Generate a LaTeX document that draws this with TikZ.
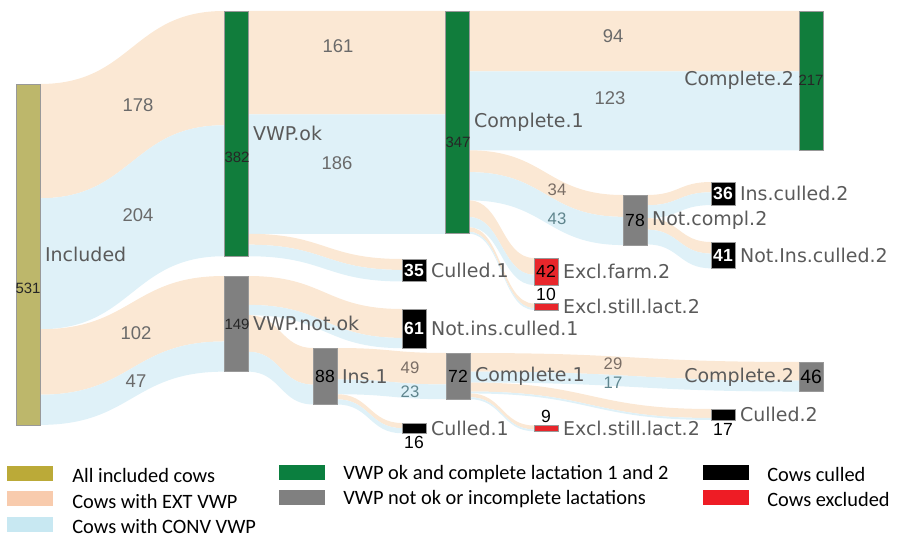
\documentclass[tikz,border=0pt]{standalone}
\usepackage{fontspec}
\newfontfamily\lblfont{DejaVu Sans}
\newfontfamily\numfont{Liberation Sans}
\newfontfamily\legfont{Carlito}
\usetikzlibrary{positioning, calc, backgrounds}
\definecolor{colive}{HTML}{BDB76B}
\definecolor{cgreen}{HTML}{117D3C}
\definecolor{cgrey}{HTML}{808080}
\definecolor{cred}{HTML}{E8262B}
\definecolor{cext}{HTML}{FBE8D4}
\definecolor{cconv}{HTML}{DFF1F8}
\definecolor{ctext}{HTML}{5A5A5A}
\definecolor{cnum}{HTML}{6A6A6A}
\definecolor{cextnum}{HTML}{7A6E66}
\definecolor{cconvnum}{HTML}{5F858D}
\definecolor{legolive}{HTML}{BBAA38}
\definecolor{legext}{HTML}{F8CBAD}
\definecolor{legconv}{HTML}{C8E8F2}
\definecolor{leggreen}{HTML}{0B7F3F}
\definecolor{legred}{HTML}{EE1C25}
\def\cowpx{0.642}
\tikzset{
  cowbar/.style={draw=black!40, line width=0.4pt, inner sep=0pt, outer sep=0pt,
    minimum width=0.48cm, minimum height={#1*\cowpx*0.02cm}, anchor=north west},
  lbl/.style={font=\lblfont\fontsize{10.8}{13}\selectfont, text=ctext, inner sep=1pt},
  flownum/.style={font=\numfont\fontsize{10.5}{12}\selectfont, text=cnum, inner sep=0pt},
  smallnum/.style={font=\numfont\fontsize{9.5}{11}\selectfont, text=#1, inner sep=0pt},
  boxnum/.style={font=\numfont\fontsize{8.5}{10}\selectfont, text=black!85, inner sep=0pt},
  cellnum/.style={font=\numfont\fontsize{10}{12}\selectfont, text=#1, inner sep=0pt},
  legtext/.style={font=\legfont\fontsize{11.6}{14}\selectfont, anchor=west, inner sep=0pt},
  swatch/.style={fill=#1, minimum width=0.92cm, minimum height=0.3cm, inner sep=0pt},
}
% one band of the sankey: source, offset at source, target, offset at target, cows, colour
\newcommand{\flow}[6]{%
  \path ($(#1.north east)+(0,{(#2)*\cowpx})$) coordinate (fa)
        ($(#1.north east)+(0,{(#2+#5)*\cowpx})$) coordinate (fc)
        ($(#3.north west)+(0,{(#4)*\cowpx})$) coordinate (fb)
        ($(#3.north west)+(0,{(#4+#5)*\cowpx})$) coordinate (fd)
        ($(fa)!.5!(fb)$) coordinate (fm);
  \fill[#6] (fa) .. controls (fm |- fa) and (fm |- fb) .. (fb) -- (fd)
    .. controls (fm |- fd) and (fm |- fc) .. (fc) -- cycle;
}

\begin{document}
\begin{tikzpicture}[x=0.02cm, y=-0.02cm]
  \useasboundingbox (0,0) rectangle (898,536);
  % nodes
  \node[cowbar=531, fill=colive] (inc) at (16,84) {};
  \node[cowbar=382, fill=cgreen] (vok) at (224,11) {};
  \node[cowbar=149, fill=cgrey] (vnok) at (224,276) {};
  \node[cowbar=347, fill=cgreen] (cpa) at (445,11) {};
  \node[cowbar=35, fill=black] (cla) at (402,259) {};
  \node[cowbar=61, fill=black] (nic) at (402,309) {};
  \node[cowbar=88, fill=cgrey] (ins) at (313,348) {};
  \node[cowbar=72, fill=cgrey] (cpb) at (446,353) {};
  \node[cowbar=16, fill=black] (clb) at (402,423) {};
  \node[cowbar=217, fill=cgreen] (cqa) at (799,11) {};
  \node[cowbar=78, fill=cgrey] (ncp) at (623,195) {};
  \node[cowbar=36, fill=black] (icq) at (711,182) {};
  \node[cowbar=41, fill=black] (nicq) at (711,242) {};
  \node[cowbar=42, fill=cred] (exf) at (534,258) {};
  \node[cowbar=10, fill=cred] (exa) at (534,303.5) {};
  \node[cowbar=46, fill=cgrey] (cqb) at (799,362) {};
  \node[cowbar=17, fill=black] (clq) at (711,409) {};
  \node[cowbar=9, fill=cred] (exb) at (534,425.5) {};

  % bands
  \begin{scope}[on background layer]
    \foreach \s/\a/\t/\b/\n/\c in {
      inc/0/vok/0/178/cext, inc/178/vok/178/204/cconv,
      inc/382/vnok/0/102/cext, inc/484/vnok/102/47/cconv,
      vok/0/cpa/0/161/cext, vok/161/cpa/161/186/cconv,
      vok/347/cla/0/17/cext, vok/364/cla/17/18/cconv,
      vnok/0/nic/0/45/cext, vnok/45/nic/45/16/cconv,
      vnok/61/ins/0/57/cext, vnok/118/ins/57/31/cconv,
      ins/0/cpb/0/49/cext, ins/49/cpb/49/23/cconv,
      ins/72/clb/0/8/cext, ins/80/clb/8/8/cconv,
      cpb/0/cqb/0/29/cext, cpb/29/cqb/29/17/cconv,
      cpb/46/clq/0/14/cext, cpb/60/clq/14/3/cconv,
      cpb/63/exb/0/6/cext, cpb/69/exb/6/3/cconv,
      cpa/0/cqa/0/94/cext, cpa/94/cqa/94/123/cconv,
      cpa/217/ncp/0/34/cext, cpa/251/ncp/34/44/cconv,
      cpa/295/exf/0/26/cext, cpa/321/exf/26/16/cconv,
      cpa/337/exa/0/7/cext, cpa/344/exa/7/3/cconv,
      ncp/0/icq/0/16/cext, ncp/16/icq/16/20/cconv,
      ncp/36/nicq/0/18/cext, ncp/54/nicq/18/23/cconv}
      \flow{\s}{\a}{\t}{\b}{\n}{\c};
  \end{scope}

  % node labels
  \node[lbl, right=0.06cm of inc] (tinc) {Included};
  \node[lbl, right=0.06cm of vok] (tvok) {VWP.ok};
  \node[lbl, right=0.06cm of vnok] (tvnok) {VWP.not.ok};
  \node[lbl, right=0.06cm of cpa] (tcpa) {Complete.1};
  \node[lbl, right=0.06cm of cla] (tcla) {Culled.1};
  \node[lbl, right=0.06cm of nic] (tnic) {Not.ins.culled.1};
  \node[lbl, right=0.06cm of ins] (tins) {Ins.1};
  \node[lbl, right=0.06cm of cpb] (tcpb) {Complete.1};
  \node[lbl, right=0.06cm of clb] (tclb) {Culled.1};
  \node[lbl, left=0.06cm of cqa] (tcqa) {Complete.2};
  \node[lbl, right=0.06cm of ncp] (tncp) {Not.compl.2};
  \node[lbl, right=0.06cm of icq] (ticq) {Ins.culled.2};
  \node[lbl, right=0.06cm of nicq] (tnicq) {Not.Ins.culled.2};
  \node[lbl, right=0.06cm of exf] (texf) {Excl.farm.2};
  \node[lbl, right=0.06cm of exa] (texa) {Excl.still.lact.2};
  \node[lbl, left=0.06cm of cqb] (tcqb) {Complete.2};
  \node[lbl, right=0.06cm of clq] (tclq) {Culled.2};
  \node[lbl, right=0.06cm of exb] (texb) {Excl.still.lact.2};

  % counts on the bars
  \node[boxnum] (n531) at (28,288) {531};
  \node[boxnum] (n382) at (237,157) {382};
  \node[boxnum] (n149) at (237,324) {149};
  \node[boxnum] (n347) at (458,142) {347};
  \node[boxnum] (n217) at (811,80) {217};
  \node[cellnum=black] (n88) at (ins.center) {88};
  \node[cellnum=black] (n72) at (cpb.center) {72};
  \node[cellnum=black] (n78) at (ncp.center) {78};
  \node[cellnum=black, font=\numfont\fontsize{11}{12}\selectfont] (n46) at (cqb.center) {46};
  \node[cellnum=white, font=\numfont\bfseries\fontsize{10}{12}\selectfont] (n35) at (cla.center) {35};
  \node[cellnum=white, font=\numfont\bfseries\fontsize{10}{12}\selectfont] (n61) at (nic.center) {61};
  \node[cellnum=white, font=\numfont\bfseries\fontsize{10}{12}\selectfont] (n36) at (icq.center) {36};
  \node[cellnum=white, font=\numfont\bfseries\fontsize{10}{12}\selectfont] (n41) at (nicq.center) {41};
  \node[cellnum=black] (n42) at (exf.center) {42};
  \node[cellnum=black, above=0.04cm of exa] (n10) {10};
  \node[cellnum=black, above=0.04cm of exb] (n9) {9};
  \node[cellnum=black, below=0.06cm of clb] (n16) {16};
  \node[cellnum=black, below=0.06cm of clq] (n17) {17};

  % counts on the bands
  \node[flownum] (f178) at (138,105) {178};
  \node[flownum] (f204) at (138,215) {204};
  \node[flownum] (f102) at (136,333) {102};
  \node[flownum] (f47) at (136,381) {47};
  \node[flownum] (f161) at (338,46) {161};
  \node[flownum] (f186) at (337,163) {186};
  \node[flownum] (f94) at (613,36) {94};
  \node[flownum] (f123) at (610,98) {123};
  \node[smallnum=cextnum] (f34) at (557,190) {34};
  \node[smallnum=cconvnum] (f43) at (557,219) {43};
  \node[smallnum=cextnum] (f49) at (410,368) {49};
  \node[smallnum=cconvnum] (f23) at (410,392) {23};
  \node[smallnum=cextnum] (f29) at (613,364) {29};
  \node[smallnum=cconvnum] (f17) at (613,383) {17};

  % legend
  \foreach \c/\t [count=\i] in {legolive/All included cows, legext/Cows with EXT VWP, legconv/Cows with CONV VWP} {
    \node[swatch=\c] (la\i) at (30,447.5+25.5*\i) {};
    \node[legtext] (ta\i) at (72,450+25.5*\i) {\t};
  }
  \foreach \c/\t [count=\i] in {leggreen/VWP ok and complete lactation 1 and 2, cgrey/VWP not ok or incomplete lactations} {
    \node[swatch=\c] (lb\i) at (301.5,447+25*\i) {};
    \node[legtext] (tb\i) at (343,449+25*\i) {\t};
  }
  \foreach \c/\t [count=\i] in {black/Cows culled, legred/Cows excluded} {
    \node[swatch=\c] (lc\i) at (725.5,447+25*\i) {};
    \node[legtext] (tc\i) at (767,449+25*\i) {\t};
  }
\end{tikzpicture}
\end{document}
